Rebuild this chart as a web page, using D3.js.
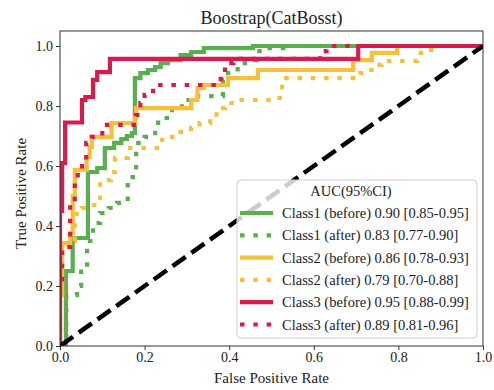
<!DOCTYPE html>
<html>
<head>
<meta charset="utf-8">
<script src="https://cdn.jsdelivr.net/npm/d3@7"></script>
<style>
  html, body { margin: 0; padding: 0; background: #fff; }
  svg { display: block; }
  text { font-family: "Liberation Serif", "DejaVu Serif", serif; fill: #222; }
</style>
</head>
<body>
<svg id="chart" width="494" height="390"></svg>
<script>
// ROC curve points [false positive rate, true positive rate]
const class1Before = [[0,0],[0.014,0],[0.014,0.25],[0.03,0.25],[0.03,0.36],[0.066,0.36],[0.066,0.58],[0.088,0.58],[0.088,0.593],[0.106,0.593],[0.106,0.66],[0.128,0.66],[0.128,0.677],[0.145,0.677],[0.145,0.69],[0.158,0.69],[0.158,0.70],[0.17,0.70],[0.17,0.71],[0.177,0.71],[0.177,0.893],[0.19,0.893],[0.19,0.91],[0.208,0.91],[0.208,0.92],[0.225,0.92],[0.225,0.93],[0.238,0.93],[0.238,0.943],[0.255,0.943],[0.255,0.953],[0.285,0.953],[0.285,0.97],[0.31,0.97],[0.31,0.98],[0.34,0.98],[0.34,0.993],[0.456,0.993],[0.456,1],[1,1]];
const class1After = [[0,0],[0.015,0],[0.015,0.17],[0.04,0.17],[0.04,0.2],[0.05,0.2],[0.05,0.26],[0.064,0.26],[0.064,0.35],[0.078,0.35],[0.078,0.41],[0.095,0.41],[0.095,0.443],[0.115,0.443],[0.115,0.46],[0.135,0.46],[0.135,0.477],[0.16,0.477],[0.16,0.563],[0.18,0.563],[0.18,0.677],[0.2,0.677],[0.2,0.697],[0.225,0.697],[0.225,0.727],[0.232,0.727],[0.232,0.76],[0.265,0.76],[0.265,0.787],[0.288,0.787],[0.288,0.82],[0.305,0.82],[0.305,0.833],[0.385,0.833],[0.385,0.887],[0.39,0.887],[0.39,0.91],[0.42,0.91],[0.42,0.943],[0.45,0.943],[0.45,0.953],[0.465,0.953],[0.465,0.983],[0.49,0.983],[0.49,0.993],[0.55,0.993],[0.55,1],[1,1]];
const class2Before = [[0,0],[0,0.17],[0.005,0.17],[0.005,0.343],[0.024,0.343],[0.024,0.377],[0.03,0.377],[0.03,0.5],[0.035,0.5],[0.035,0.587],[0.063,0.587],[0.063,0.63],[0.07,0.63],[0.07,0.663],[0.075,0.663],[0.075,0.697],[0.122,0.697],[0.122,0.743],[0.177,0.743],[0.177,0.76],[0.18,0.76],[0.18,0.793],[0.31,0.793],[0.31,0.82],[0.325,0.82],[0.325,0.86],[0.34,0.86],[0.34,0.87],[0.397,0.87],[0.397,0.893],[0.468,0.893],[0.468,0.92],[0.693,0.92],[0.693,0.953],[0.737,0.953],[0.737,0.977],[0.797,0.977],[0.797,1],[1,1]];
const class2After = [[0,0],[0,0.16],[0.005,0.16],[0.005,0.33],[0.02,0.33],[0.02,0.35],[0.035,0.35],[0.035,0.44],[0.052,0.44],[0.052,0.46],[0.068,0.46],[0.068,0.47],[0.095,0.47],[0.095,0.553],[0.12,0.553],[0.12,0.58],[0.13,0.58],[0.13,0.627],[0.16,0.627],[0.16,0.66],[0.235,0.66],[0.235,0.687],[0.26,0.687],[0.26,0.697],[0.285,0.697],[0.285,0.713],[0.31,0.713],[0.31,0.727],[0.33,0.727],[0.33,0.743],[0.355,0.743],[0.355,0.763],[0.37,0.763],[0.37,0.793],[0.39,0.793],[0.39,0.81],[0.42,0.81],[0.42,0.82],[0.5,0.82],[0.5,0.827],[0.52,0.827],[0.52,0.85],[0.525,0.85],[0.525,0.893],[0.71,0.893],[0.71,0.91],[0.73,0.91],[0.73,0.92],[0.75,0.92],[0.75,0.937],[0.76,0.937],[0.76,0.95],[0.845,0.95],[0.845,0.977],[0.86,0.977],[0.86,0.987],[0.89,0.987],[0.89,1],[1,1]];
const class3Before = [[0,0],[0,0.45],[0.005,0.45],[0.005,0.61],[0.012,0.61],[0.012,0.745],[0.052,0.745],[0.052,0.82],[0.06,0.82],[0.06,0.83],[0.078,0.83],[0.078,0.887],[0.088,0.887],[0.088,0.913],[0.118,0.913],[0.118,0.957],[0.705,0.957],[0.705,1],[1,1]];
const class3After = [[0,0],[0,0.2],[0.005,0.2],[0.005,0.33],[0.024,0.33],[0.024,0.48],[0.035,0.48],[0.035,0.553],[0.042,0.553],[0.042,0.577],[0.052,0.577],[0.052,0.61],[0.062,0.61],[0.062,0.677],[0.075,0.677],[0.075,0.697],[0.1,0.697],[0.1,0.737],[0.18,0.737],[0.18,0.77],[0.19,0.77],[0.19,0.81],[0.2,0.81],[0.2,0.837],[0.22,0.837],[0.22,0.87],[0.38,0.87],[0.38,0.9],[0.39,0.9],[0.39,0.943],[0.41,0.943],[0.41,0.957],[0.615,0.957],[0.615,0.983],[0.63,0.983],[0.63,1],[1,1]];

const seriesLabels = [
  "Class1 (before) 0.90 [0.85-0.95]",
  "Class1 (after) 0.83 [0.77-0.90]",
  "Class2 (before) 0.86 [0.78-0.93]",
  "Class2 (after) 0.79 [0.70-0.88]",
  "Class3 (before) 0.95 [0.88-0.99]",
  "Class3 (after) 0.89 [0.81-0.96]"
];
const seriesData = [class1Before, class1After, class2Before, class2After, class3Before, class3After];
const seriesColors = ["#5aaf4e", "#5aaf4e", "#f7bf3a", "#f7bf3a", "#d81b4f", "#d81b4f"];
const seriesDotted = [false, true, false, true, false, true];
const chanceLine = [[0,0],[1,1]];
const xTicks = [0, 0.2, 0.4, 0.6, 0.8, 1.0];
const yTicks = [0, 0.2, 0.4, 0.6, 0.8, 1.0];

const svg = d3.select("#chart");
const plotLeft = 60, plotRight = 483, plotTop = 31, plotBottom = 346;
const x = d3.scaleLinear().domain([0, 1]).range([plotLeft, plotRight]);
const y = d3.scaleLinear().domain([0, 1.05]).range([plotBottom, plotTop]);

svg.append("defs").append("clipPath").attr("id", "plotClip")
  .append("rect").attr("x", plotLeft).attr("y", plotTop)
  .attr("width", plotRight - plotLeft).attr("height", plotBottom - plotTop);

const line = d3.line().x(d => x(d[0])).y(d => y(d[1]));
const plot = svg.append("g").attr("clip-path", "url(#plotClip)");

seriesData.forEach((pts, i) => {
  plot.append("path")
    .attr("d", line(pts))
    .attr("fill", "none")
    .attr("stroke", seriesColors[i])
    .attr("stroke-width", 4.2)
    .attr("stroke-linejoin", "miter")
    .attr("stroke-dasharray", seriesDotted[i] ? "4.5,8.8" : null);
});

plot.append("path")
  .attr("d", line(chanceLine))
  .attr("fill", "none")
  .attr("stroke", "#000")
  .attr("stroke-width", 4.5)
  .attr("stroke-dasharray", "16,7");

// Frame
svg.append("rect")
  .attr("x", plotLeft).attr("y", plotTop)
  .attr("width", plotRight - plotLeft).attr("height", plotBottom - plotTop)
  .attr("fill", "none").attr("stroke", "#333").attr("stroke-width", 1);

// Axes
const xAxis = d3.axisBottom(x).tickValues(xTicks).tickFormat(d3.format(".1f")).tickSizeOuter(0).tickSize(4).tickPadding(2);
const yAxis = d3.axisLeft(y).tickValues(yTicks).tickFormat(d3.format(".1f")).tickSizeOuter(0).tickSize(4).tickPadding(3);

const gx = svg.append("g").attr("transform", `translate(0,${plotBottom})`).call(xAxis);
const gy = svg.append("g").attr("transform", `translate(${plotLeft},0)`).call(yAxis);
[gx, gy].forEach(g => {
  g.select(".domain").remove();
  g.selectAll(".tick line").attr("stroke", "#333");
  g.selectAll(".tick text")
    .style("font-family", "'Liberation Serif', serif")
    .style("font-size", "14px")
    .attr("fill", "#222");
});

// Titles
svg.append("text").attr("x", (plotLeft + plotRight) / 2).attr("y", 24)
  .attr("text-anchor", "middle").style("font-size", "18px")
  .text("Boostrap(CatBosst)");
svg.append("text").attr("x", (plotLeft + plotRight) / 2).attr("y", 383)
  .attr("text-anchor", "middle").style("font-size", "15px")
  .text("False Positive Rate");
svg.append("text").attr("transform", `translate(26,${(plotTop + plotBottom) / 2 + 5}) rotate(-90)`)
  .attr("text-anchor", "middle").style("font-size", "15px")
  .text("True Positive Rate");

// Legend
const lg = svg.append("g");
lg.append("rect")
  .attr("x", 237).attr("y", 180).attr("width", 240).attr("height", 158)
  .attr("rx", 4).attr("ry", 4)
  .attr("fill", "rgba(255,255,255,0.8)")
  .attr("stroke", "#d0d0d0").attr("stroke-width", 1);
lg.append("text").attr("x", 351).attr("y", 196)
  .attr("text-anchor", "middle").style("font-size", "14.5px")
  .text("AUC(95%CI)");
seriesLabels.forEach((label, i) => {
  const cy = 213 + i * 22.3;
  lg.append("line")
    .attr("x1", 240).attr("x2", 273).attr("y1", cy).attr("y2", cy)
    .attr("stroke", seriesColors[i]).attr("stroke-width", 4.2)
    .attr("stroke-dasharray", seriesDotted[i] ? "4.5,8.8" : null);
  lg.append("text").attr("x", 282).attr("y", cy + 5)
    .style("font-size", "14.5px")
    .text(label);
});
</script>
</body>
</html>
